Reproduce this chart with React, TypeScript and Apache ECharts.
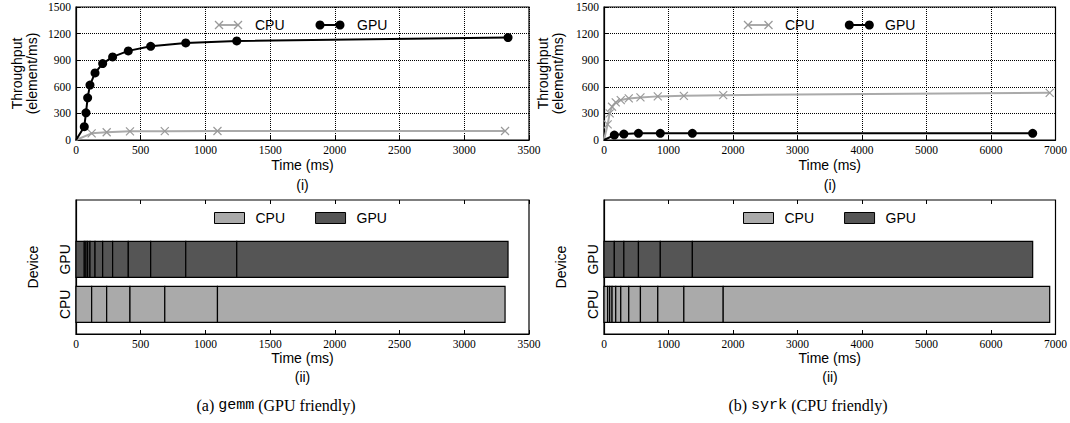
import React, { useEffect, useRef } from "react";
import * as echarts from "echarts";

// ---------- data ----------
// (a) gemm : throughput curves (time in ms, throughput in element/ms)
const gemmCpuTime = [0, 121, 237, 417, 686, 1093, 3315];
const gemmCpuThroughput = [0, 75, 87, 98, 100, 101, 101];
const gemmGpuTime = [0, 64, 77, 90, 108, 147, 206, 283, 404, 577, 848, 1242, 3338];
const gemmGpuThroughput = [0, 150, 307, 476, 619, 757, 862, 937, 1005, 1057, 1095, 1117, 1155];

// (b) syrk : throughput curves
const syrkCpuTime = [0, 57, 88, 125, 182, 260, 384, 565, 834, 1238, 1848, 6910];
const syrkCpuThroughput = [0, 177, 300, 375, 424, 450, 469, 480, 492, 498, 506, 532];
const syrkGpuTime = [0, 160, 308, 534, 873, 1370, 6646];
const syrkGpuThroughput = [0, 56, 67, 75, 75, 75, 75];

// axes
const gemmTimeMax = 3500;
const gemmTimeStep = 500;
const syrkTimeMax = 7000;
const syrkTimeStep = 1000;
const throughputMax = 1500;
const throughputStep = 300;
const deviceLabels = ["CPU", "GPU"]; // row 0, row 1

const SERIF = '"Liberation Serif", "DejaVu Serif", serif';
const SANS = '"Liberation Sans", Arial, sans-serif';
const MONO = '"Liberation Mono", "DejaVu Sans Mono", monospace';

const CPU_LINE = "#aaaaaa";
const CPU_MARK = "#999999";
const CPU_FILL = "#aaaaaa";
const GPU_FILL = "#555555";

const toPoints = (t: number[], v: number[]) =>
  t.map((x, i) => (i === 0 ? { value: [x, v[i]], symbol: "none" } : [x, v[i]]));

const toSegments = (t: number[], row: number) =>
  t.slice(1).map((x, i) => [t[i], x, row]);

const makeRender = (fill: string) => (_params: any, api: any) => {
  const row = api.value(2);
  const s = api.coord([api.value(0), row]);
  const e = api.coord([api.value(1), row]);
  const h = api.size([0, 0.8])[1];
  return {
    type: "rect",
    shape: { x: s[0], y: s[1] - h / 2, width: e[0] - s[0], height: h },
    style: { fill, stroke: "#000", lineWidth: 1.2 },
  };
};

const plain = (v: number) => String(v);
const tickLabel = { color: "#000", fontFamily: SERIF, fontSize: 11.5, formatter: plain };
const nameStyle = { color: "#000", fontFamily: SANS, fontSize: 14 };
const axisLine = { show: true, onZero: false, lineStyle: { color: "#000", width: 1.2 } };
const dotted = { show: true, lineStyle: { color: "#000", type: "dotted", width: 1 } };

const timeAxis = (grid: number, max: number, step: number, split: boolean) => ({
  type: "value",
  gridIndex: grid,
  min: 0,
  max,
  interval: step,
  name: "Time (ms)",
  nameLocation: "middle",
  nameGap: 18,
  nameTextStyle: nameStyle,
  axisLine,
  axisTick: { show: true, inside: true, length: 4, lineStyle: { color: "#000" } },
  axisLabel: { ...tickLabel, margin: 4 },
  splitLine: split ? dotted : { show: false },
});

const topTickAxis = (grid: number, max: number, step: number) => ({
  type: "value",
  gridIndex: grid,
  position: "top",
  min: 0,
  max,
  interval: step,
  axisLine: { show: false, onZero: false },
  axisTick: { show: true, inside: true, length: 4, lineStyle: { color: "#000" } },
  axisLabel: { show: false },
  splitLine: { show: false },
});

const throughputAxis = (grid: number, gap: number) => ({
  type: "value",
  gridIndex: grid,
  min: 0,
  max: throughputMax,
  interval: throughputStep,
  name: "Throughput\n(element/ms)",
  nameLocation: "middle",
  nameGap: gap,
  nameTextStyle: { ...nameStyle, lineHeight: 15 },
  axisLine,
  axisTick: { show: true, inside: true, length: 4, lineStyle: { color: "#000" } },
  axisLabel: { ...tickLabel, margin: 5 },
  splitLine: dotted,
});

const deviceAxis = (grid: number) => ({
  type: "value",
  gridIndex: grid,
  min: -0.66,
  max: 2.32,
  name: "Device",
  nameLocation: "middle",
  nameGap: 36,
  nameTextStyle: nameStyle,
  axisLine,
  axisTick: { show: true, inside: true, length: 4, customValues: [0, 1], lineStyle: { color: "#000" } },
  axisLabel: {
    color: "#000",
    fontFamily: SANS,
    fontSize: 14,
    rotate: 90,
    margin: 4,
    customValues: [0, 1],
    formatter: (v: number) => deviceLabels[Math.round(v)] ?? "",
  },
  splitLine: { show: false },
});

const cpuLine = (xi: number, t: number[], v: number[]) => ({
  name: "CPU",
  type: "line",
  xAxisIndex: xi,
  yAxisIndex: xi,
  data: toPoints(t, v),
  symbol: "path://M0,0L10,10M10,0L0,10",
  symbolSize: 8,
  itemStyle: { color: CPU_MARK, borderColor: CPU_MARK, borderWidth: 1.2 },
  lineStyle: { color: CPU_LINE, width: 2 },
  z: 3,
});

const gpuLine = (xi: number, t: number[], v: number[]) => ({
  name: "GPU",
  type: "line",
  xAxisIndex: xi,
  yAxisIndex: xi,
  data: toPoints(t, v),
  symbol: "circle",
  symbolSize: 9,
  itemStyle: { color: "#000" },
  lineStyle: { color: "#000", width: 2 },
  z: 4,
});

const segSeries = (name: string, xi: number, t: number[], row: number, fill: string) => ({
  name,
  type: "custom",
  xAxisIndex: xi,
  yAxisIndex: xi,
  renderItem: makeRender(fill),
  encode: { x: [0, 1], y: 2 },
  data: toSegments(t, row),
  itemStyle: { color: fill },
});

const topLegend = (
  cx1: number, cx2: number, cText: number,
  gx1: number, gx2: number, gText: number, y: number
) => {
  const xMark = (cx: number) => [
    { type: "line", shape: { x1: cx - 4, y1: y - 4, x2: cx + 4, y2: y + 4 }, style: { stroke: CPU_MARK, lineWidth: 1.2 } },
    { type: "line", shape: { x1: cx - 4, y1: y + 4, x2: cx + 4, y2: y - 4 }, style: { stroke: CPU_MARK, lineWidth: 1.2 } },
  ];
  return [
    { type: "line", shape: { x1: cx1, y1: y, x2: cx2, y2: y }, style: { stroke: CPU_LINE, lineWidth: 2 } },
    ...xMark(cx1),
    ...xMark(cx2),
    { type: "text", x: cText, y, style: { text: "CPU", fill: "#000", fontFamily: SANS, fontSize: 14, verticalAlign: "middle" } },
    { type: "line", shape: { x1: gx1, y1: y, x2: gx2, y2: y }, style: { stroke: "#000", lineWidth: 2 } },
    { type: "circle", shape: { cx: gx1, cy: y, r: 4.5 }, style: { fill: "#000" } },
    { type: "circle", shape: { cx: gx2, cy: y, r: 4.5 }, style: { fill: "#000" } },
    { type: "text", x: gText, y, style: { text: "GPU", fill: "#000", fontFamily: SANS, fontSize: 14, verticalAlign: "middle" } },
  ];
};

const centerText = (x: number, y: number, text: string) => ({
  type: "text",
  x,
  y,
  style: { text, fill: "#000", fontFamily: SANS, fontSize: 14, align: "center", verticalAlign: "middle" },
});

const caption = (x: number, y: number, prefix: string, code: string, suffix: string) => ({
  type: "text",
  x,
  y,
  style: {
    text: `${prefix} {m|${code}} ${suffix}`,
    fill: "#000",
    fontFamily: SERIF,
    fontSize: 16,
    align: "center",
    verticalAlign: "middle",
    rich: { m: { fontFamily: MONO, fontSize: 15, fill: "#000" } },
  },
});

const bottomLegend = (left: number) => ({
  left,
  top: 211,
  padding: 0,
  orient: "horizontal",
  itemWidth: 30,
  itemHeight: 11,
  itemGap: 30,
  selectedMode: false,
  textStyle: { color: "#000", fontFamily: SANS, fontSize: 14, padding: [0, 0, 0, 6] },
  data: [
    { name: "CPU", icon: "rect", itemStyle: { color: CPU_FILL, borderColor: "#000", borderWidth: 1 } },
    { name: "GPU", icon: "rect", itemStyle: { color: GPU_FILL, borderColor: "#000", borderWidth: 1 } },
  ],
});

const gridBox = { show: true, borderColor: "#000", borderWidth: 1.2, containLabel: false };

const option: any = {
  animation: false,
  backgroundColor: "#fff",
  grid: [
    { ...gridBox, left: 76, top: 7, width: 453, height: 133 },
    { ...gridBox, left: 604, top: 7, width: 452, height: 133 },
    { ...gridBox, left: 76, top: 200, width: 453, height: 134 },
    { ...gridBox, left: 604, top: 200, width: 452, height: 134 },
  ],
  xAxis: [
    timeAxis(0, gemmTimeMax, gemmTimeStep, true),
    timeAxis(1, syrkTimeMax, syrkTimeStep, true),
    { ...timeAxis(2, gemmTimeMax, gemmTimeStep, false), nameGap: 17 },
    { ...timeAxis(3, syrkTimeMax, syrkTimeStep, false), nameGap: 17 },
    topTickAxis(2, gemmTimeMax, gemmTimeStep),
    topTickAxis(3, syrkTimeMax, syrkTimeStep),
  ],
  yAxis: [
    throughputAxis(0, 37),
    throughputAxis(1, 39),
    deviceAxis(2),
    deviceAxis(3),
  ],
  legend: [bottomLegend(214), bottomLegend(743)],
  series: [
    cpuLine(0, gemmCpuTime, gemmCpuThroughput),
    gpuLine(0, gemmGpuTime, gemmGpuThroughput),
    cpuLine(1, syrkCpuTime, syrkCpuThroughput),
    gpuLine(1, syrkGpuTime, syrkGpuThroughput),
    segSeries("CPU", 2, gemmCpuTime, 0, CPU_FILL),
    segSeries("GPU", 2, gemmGpuTime, 1, GPU_FILL),
    segSeries("CPU", 3, syrkCpuTime, 0, CPU_FILL),
    segSeries("GPU", 3, syrkGpuTime, 1, GPU_FILL),
  ],
  graphic: [
    ...topLegend(219, 238, 255, 320, 340, 357, 25),
    ...topLegend(748, 768.5, 785, 849.3, 869.3, 885, 25),
    centerText(302.5, 185, "(i)"),
    centerText(830, 185, "(i)"),
    centerText(302.5, 377, "(ii)"),
    centerText(830, 377, "(ii)"),
    caption(276, 405, "(a)", "gemm", "(GPU friendly)"),
    caption(808, 405, "(b)", "syrk", "(CPU friendly)"),
  ],
};

export default function App() {
  const ref = useRef<HTMLDivElement>(null);
  useEffect(() => {
    if (!ref.current) return;
    const chart = echarts.init(ref.current, null, { renderer: "svg" });
    chart.setOption(option);
    return () => chart.dispose();
  }, []);
  return (
    <div
      ref={ref}
      style={{ position: "absolute", left: 0, top: 0, width: 1070, height: 423, background: "#fff" }}
    />
  );
}
